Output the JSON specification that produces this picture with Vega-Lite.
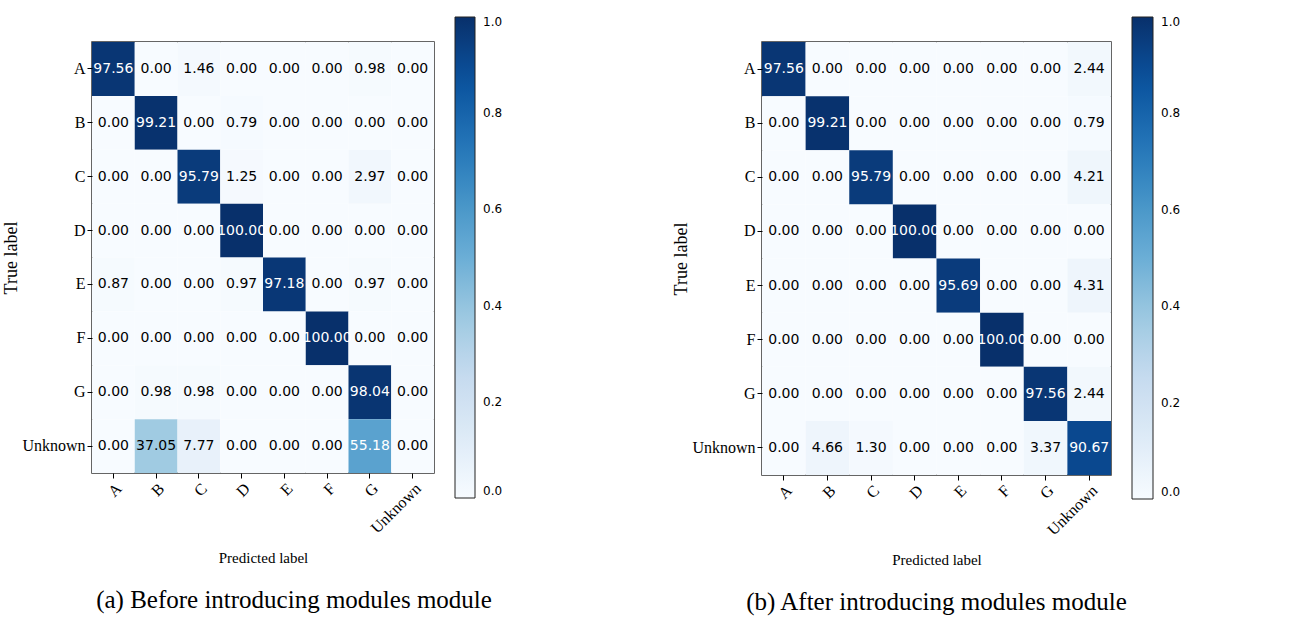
{
  "$schema": "https://vega.github.io/schema/vega-lite/v6.json",
  "background": "white",
  "padding": {"left": 2, "top": 16, "right": 5, "bottom": 5},
  "spacing": 168,
  "datasets": {
    "before": [
      {"t":"A","p":"A","v":97.56},{"t":"A","p":"B","v":0},{"t":"A","p":"C","v":1.46},{"t":"A","p":"D","v":0},{"t":"A","p":"E","v":0},{"t":"A","p":"F","v":0},{"t":"A","p":"G","v":0.98},{"t":"A","p":"Unknown","v":0},
      {"t":"B","p":"A","v":0},{"t":"B","p":"B","v":99.21},{"t":"B","p":"C","v":0},{"t":"B","p":"D","v":0.79},{"t":"B","p":"E","v":0},{"t":"B","p":"F","v":0},{"t":"B","p":"G","v":0},{"t":"B","p":"Unknown","v":0},
      {"t":"C","p":"A","v":0},{"t":"C","p":"B","v":0},{"t":"C","p":"C","v":95.79},{"t":"C","p":"D","v":1.25},{"t":"C","p":"E","v":0},{"t":"C","p":"F","v":0},{"t":"C","p":"G","v":2.97},{"t":"C","p":"Unknown","v":0},
      {"t":"D","p":"A","v":0},{"t":"D","p":"B","v":0},{"t":"D","p":"C","v":0},{"t":"D","p":"D","v":100},{"t":"D","p":"E","v":0},{"t":"D","p":"F","v":0},{"t":"D","p":"G","v":0},{"t":"D","p":"Unknown","v":0},
      {"t":"E","p":"A","v":0.87},{"t":"E","p":"B","v":0},{"t":"E","p":"C","v":0},{"t":"E","p":"D","v":0.97},{"t":"E","p":"E","v":97.18},{"t":"E","p":"F","v":0},{"t":"E","p":"G","v":0.97},{"t":"E","p":"Unknown","v":0},
      {"t":"F","p":"A","v":0},{"t":"F","p":"B","v":0},{"t":"F","p":"C","v":0},{"t":"F","p":"D","v":0},{"t":"F","p":"E","v":0},{"t":"F","p":"F","v":100},{"t":"F","p":"G","v":0},{"t":"F","p":"Unknown","v":0},
      {"t":"G","p":"A","v":0},{"t":"G","p":"B","v":0.98},{"t":"G","p":"C","v":0.98},{"t":"G","p":"D","v":0},{"t":"G","p":"E","v":0},{"t":"G","p":"F","v":0},{"t":"G","p":"G","v":98.04},{"t":"G","p":"Unknown","v":0},
      {"t":"Unknown","p":"A","v":0},{"t":"Unknown","p":"B","v":37.05},{"t":"Unknown","p":"C","v":7.77},{"t":"Unknown","p":"D","v":0},{"t":"Unknown","p":"E","v":0},{"t":"Unknown","p":"F","v":0},{"t":"Unknown","p":"G","v":55.18},{"t":"Unknown","p":"Unknown","v":0}
    ],
    "after": [
      {"t":"A","p":"A","v":97.56},{"t":"A","p":"B","v":0},{"t":"A","p":"C","v":0},{"t":"A","p":"D","v":0},{"t":"A","p":"E","v":0},{"t":"A","p":"F","v":0},{"t":"A","p":"G","v":0},{"t":"A","p":"Unknown","v":2.44},
      {"t":"B","p":"A","v":0},{"t":"B","p":"B","v":99.21},{"t":"B","p":"C","v":0},{"t":"B","p":"D","v":0},{"t":"B","p":"E","v":0},{"t":"B","p":"F","v":0},{"t":"B","p":"G","v":0},{"t":"B","p":"Unknown","v":0.79},
      {"t":"C","p":"A","v":0},{"t":"C","p":"B","v":0},{"t":"C","p":"C","v":95.79},{"t":"C","p":"D","v":0},{"t":"C","p":"E","v":0},{"t":"C","p":"F","v":0},{"t":"C","p":"G","v":0},{"t":"C","p":"Unknown","v":4.21},
      {"t":"D","p":"A","v":0},{"t":"D","p":"B","v":0},{"t":"D","p":"C","v":0},{"t":"D","p":"D","v":100},{"t":"D","p":"E","v":0},{"t":"D","p":"F","v":0},{"t":"D","p":"G","v":0},{"t":"D","p":"Unknown","v":0},
      {"t":"E","p":"A","v":0},{"t":"E","p":"B","v":0},{"t":"E","p":"C","v":0},{"t":"E","p":"D","v":0},{"t":"E","p":"E","v":95.69},{"t":"E","p":"F","v":0},{"t":"E","p":"G","v":0},{"t":"E","p":"Unknown","v":4.31},
      {"t":"F","p":"A","v":0},{"t":"F","p":"B","v":0},{"t":"F","p":"C","v":0},{"t":"F","p":"D","v":0},{"t":"F","p":"E","v":0},{"t":"F","p":"F","v":100},{"t":"F","p":"G","v":0},{"t":"F","p":"Unknown","v":0},
      {"t":"G","p":"A","v":0},{"t":"G","p":"B","v":0},{"t":"G","p":"C","v":0},{"t":"G","p":"D","v":0},{"t":"G","p":"E","v":0},{"t":"G","p":"F","v":0},{"t":"G","p":"G","v":97.56},{"t":"G","p":"Unknown","v":2.44},
      {"t":"Unknown","p":"A","v":0},{"t":"Unknown","p":"B","v":4.66},{"t":"Unknown","p":"C","v":1.30},{"t":"Unknown","p":"D","v":0},{"t":"Unknown","p":"E","v":0},{"t":"Unknown","p":"F","v":0},{"t":"Unknown","p":"G","v":3.37},{"t":"Unknown","p":"Unknown","v":90.67}
    ]
  },
  "config": {
    "view": {"stroke": "#333333", "strokeWidth": 1.5},
    "axis": {
      "labelFont": "Liberation Serif", "labelFontSize": 16, "labelColor": "#000000",
      "titleFont": "Liberation Serif", "titleFontSize": 15, "titleFontWeight": "normal", "titleColor": "#000000",
      "domain": false, "tickColor": "#000000", "tickSize": 5, "grid": false, "labelPadding": 2
    },
    "axisY": {"titleFontSize": 18},
    "title": {"font": "Liberation Serif", "fontSize": 25, "fontWeight": "normal", "color": "#000000"}
  },
  "resolve": {"scale": {"color": "independent"}, "legend": {"color": "independent"}},
  "hconcat": [
    {
      "data": {"name": "before"},
      "width": 342,
      "height": 431,
      "title": {"text": "(a) Before introducing modules module", "orient": "bottom", "anchor": "middle", "offset": 22, "dx": 31},
      "encoding": {
        "x": {"field": "p", "type": "nominal", "sort": ["A","B","C","D","E","F","G","Unknown"], "scale": {"paddingInner": 0, "paddingOuter": 0},
              "axis": {"title": "Predicted label", "labelAngle": -45, "labelAlign": "right", "labelBaseline": "top", "titlePadding": 15}},
        "y": {"field": "t", "type": "nominal", "sort": ["A","B","C","D","E","F","G","Unknown"], "scale": {"paddingInner": 0, "paddingOuter": 0},
              "axis": {"title": "True label", "labelAngle": 0, "titlePadding": 1}}
      },
      "layer": [
        {
          "mark": {"type": "rect"},
          "encoding": {
            "color": {"field": "v", "type": "quantitative",
              "scale": {"domain": [0,12.5,25,37.5,50,62.5,75,87.5,100], "range": ["#f7fbff","#deebf7","#c6dbef","#9ecae1","#6baed6","#4292c6","#2171b5","#08519c","#08306b"]},
              "legend": {"orient": "none", "legendX": 363, "legendY": -25, "direction": "vertical", "gradientLength": 481, "gradientThickness": 20, "title": null,
                         "values": [0,20,40,60,80,100], "labelExpr": "format(datum.value/100, '.1f')", "labelFont": "DejaVu Sans", "labelFontSize": 12, "labelColor": "#000000", "labelOffset": 8,
                         "gradientStrokeColor": "#222222", "gradientStrokeWidth": 1}}
          }
        },
        {
          "mark": {"type": "text", "font": "DejaVu Sans", "fontSize": 14},
          "encoding": {
            "text": {"field": "v", "type": "quantitative", "format": ".2f"},
            "color": {"condition": {"test": "datum.v > 50", "value": "#ffffff"}, "value": "#000000"}
          }
        }
      ]
    },
    {
      "data": {"name": "after"},
      "width": 349,
      "height": 433,
      "title": {"text": "(b) After introducing modules module", "orient": "bottom", "anchor": "middle", "offset": 22},
      "encoding": {
        "x": {"field": "p", "type": "nominal", "sort": ["A","B","C","D","E","F","G","Unknown"], "scale": {"paddingInner": 0, "paddingOuter": 0},
              "axis": {"title": "Predicted label", "labelAngle": -45, "labelAlign": "right", "labelBaseline": "top", "titlePadding": 15}},
        "y": {"field": "t", "type": "nominal", "sort": ["A","B","C","D","E","F","G","Unknown"], "scale": {"paddingInner": 0, "paddingOuter": 0},
              "axis": {"title": "True label", "labelAngle": 0, "titlePadding": 1}}
      },
      "layer": [
        {
          "mark": {"type": "rect"},
          "encoding": {
            "color": {"field": "v", "type": "quantitative",
              "scale": {"domain": [0,12.5,25,37.5,50,62.5,75,87.5,100], "range": ["#f7fbff","#deebf7","#c6dbef","#9ecae1","#6baed6","#4292c6","#2171b5","#08519c","#08306b"]},
              "legend": {"orient": "none", "legendX": 370, "legendY": -25, "direction": "vertical", "gradientLength": 482, "gradientThickness": 21, "title": null,
                         "values": [0,20,40,60,80,100], "labelExpr": "format(datum.value/100, '.1f')", "labelFont": "DejaVu Sans", "labelFontSize": 12, "labelColor": "#000000", "labelOffset": 8,
                         "gradientStrokeColor": "#222222", "gradientStrokeWidth": 1}}
          }
        },
        {
          "mark": {"type": "text", "font": "DejaVu Sans", "fontSize": 14},
          "encoding": {
            "text": {"field": "v", "type": "quantitative", "format": ".2f"},
            "color": {"condition": {"test": "datum.v > 50", "value": "#ffffff"}, "value": "#000000"}
          }
        }
      ]
    }
  ]
}
